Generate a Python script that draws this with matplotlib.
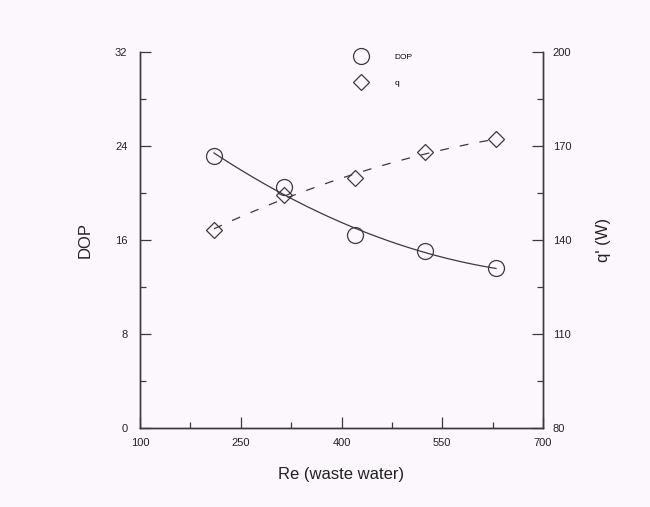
import matplotlib as mpl
mpl.use('Agg')
import matplotlib.pyplot as plt
import matplotlib.ticker as ticker
import numpy as np
from matplotlib import rcParams

rcParams['font.family'] = ['Liberation Sans', 'DejaVu Sans']

# data
re_vals  = [210, 315, 420, 525, 630]
dop_vals = [23.2, 20.5, 16.4, 15.1, 13.6]
q_vals   = [143.2, 154.4, 159.8, 168.1, 172.2]

x_ticks   = [100, 250, 400, 550, 700]
dop_ticks = [0, 8, 16, 24, 32]
q_ticks   = [80, 110, 140, 170, 200]

bg = '#fcf7fc'
ink = '#3a3a3a'

fig = plt.figure(figsize=(6.5, 5.07), dpi=100, facecolor=bg)
ax = fig.add_axes([0.2154, 0.156, 0.62, 0.741], facecolor=bg)
ax2 = ax.twinx()

# fitted curves through the measured points
xs = np.linspace(min(re_vals), max(re_vals), 100)
dop_fit = np.polyval(np.polyfit(re_vals, dop_vals, 2), xs)
q_fit = np.polyval(np.polyfit(re_vals, q_vals, 2), xs)

ax.plot(xs, dop_fit, color=ink, lw=0.9, ls='-')
ax.plot(re_vals, dop_vals, ls='none', marker='o', ms=11.5, mfc='none', mec=ink, mew=0.9, label='DOP')
ax2.plot(xs, q_fit, color=ink, lw=0.9, ls=(0, (7, 9)))
ax2.plot(re_vals, q_vals, ls='none', marker='D', ms=8.5, mfc='none', mec=ink, mew=0.9, label='q')

ax.set_xlim(100, 700)
ax.set_ylim(0, 32)
ax2.set_ylim(80, 200)

ax.xaxis.set_major_locator(ticker.FixedLocator(x_ticks))
ax.xaxis.set_minor_locator(ticker.FixedLocator([175, 325, 475, 625]))
ax.yaxis.set_major_locator(ticker.FixedLocator(dop_ticks))
ax.yaxis.set_minor_locator(ticker.FixedLocator([4, 12, 20, 28]))
ax2.yaxis.set_major_locator(ticker.FixedLocator(q_ticks))
ax2.yaxis.set_minor_locator(ticker.FixedLocator([95, 125, 155, 185]))

for a in (ax, ax2):
    a.spines['top'].set_visible(False)
    for s in a.spines.values():
        s.set_color(ink)
        s.set_linewidth(1.0)
    a.tick_params(which='major', direction='in', length=8, width=0.9, color=ink, labelsize=8, labelcolor='#222222')
    a.tick_params(which='minor', direction='in', length=4, width=0.9, color=ink)
ax.tick_params(axis='y', which='both', right=False, pad=9)
ax.tick_params(axis='x', pad=7)
ax2.tick_params(axis='y', which='both', left=False, pad=7)

ax.set_xlabel('Re (waste water)', fontsize=12, color='#222222', labelpad=14)
ax.set_ylabel('DOP', fontsize=12, color='#222222', labelpad=16)
ax2.set_ylabel("q' (W)", fontsize=12, color='#222222', labelpad=18)

h1, l1 = ax.get_legend_handles_labels()
h2, l2 = ax2.get_legend_handles_labels()
leg = ax.legend(h1 + h2, l1 + l2, loc='upper left', bbox_to_anchor=(0.515, 1.018), frameon=False,
                fontsize=6, handletextpad=3.2, labelspacing=2.2, handlelength=1.5)

plt.savefig('out.png', dpi=100, facecolor=bg)
